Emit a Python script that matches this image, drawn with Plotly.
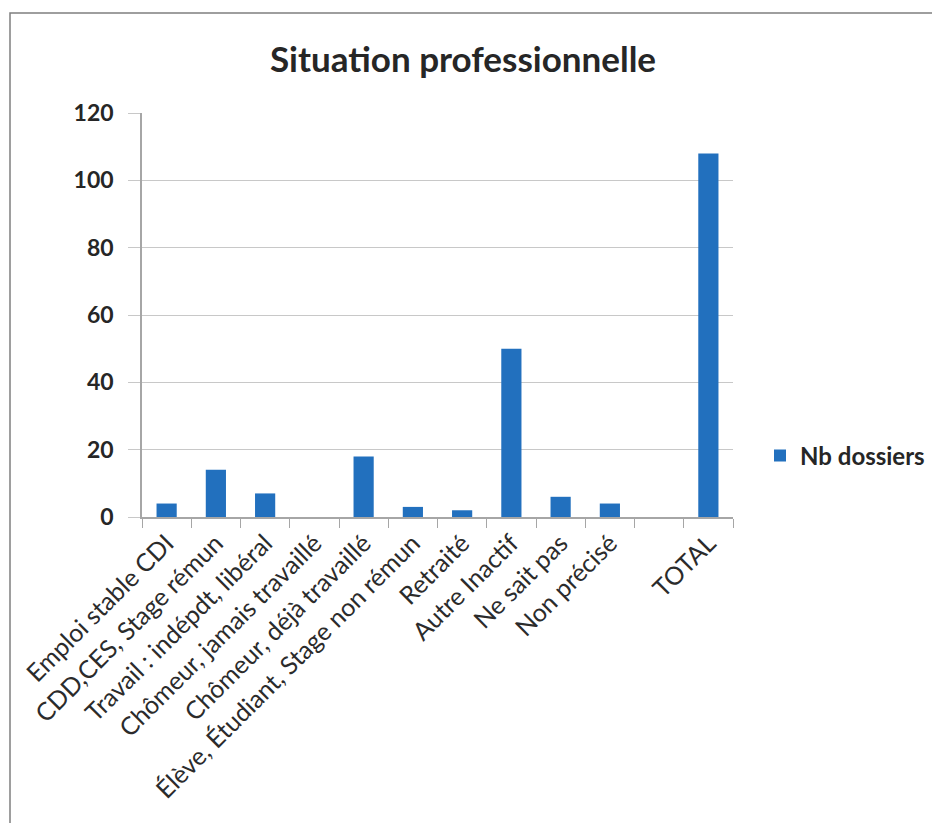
import plotly.graph_objects as go

categories = [
    "Emploi stable CDI",
    "CDD,CES, Stage rémun",
    "Travail : indépdt, libéral",
    "Chômeur, jamais travaillé",
    "Chômeur, déjà travaillé",
    "Élève, Étudiant, Stage non rémun",
    "Retraité",
    "Autre Inactif",
    "Ne sait pas",
    "Non précisé",
    " ",
    "TOTAL",
]
values = [4, 14, 7, 0, 18, 3, 2, 50, 6, 4, None, 108]
series_name = "Nb dossiers"
y_ticks = [0, 20, 40, 60, 80, 100, 120]

W, H = 940, 823
L, R, T, B = 134, 725, 105, 509

pw, ph = R - L, B - T


def px_to_paper_x(x):
    return (x - L) / pw


def px_to_paper_y(y):
    return (B - y) / ph


fig = go.Figure()
fig.add_trace(go.Bar(
    x=categories, y=values, name=series_name,
    marker=dict(color="#2270BE", line=dict(width=0)),
    showlegend=True,
))

fig.update_layout(
    width=W, height=H,
    margin=dict(l=L, r=W - R, t=T, b=H - B, autoexpand=False),
    paper_bgcolor="white", plot_bgcolor="white",
    bargap=0.59,
    title=dict(text="<b>Situation professionnelle</b>", x=455 / W, xanchor="center",
               y=1 - 52 / H, yanchor="middle",
               font=dict(family="Lato", size=35, color="#262626")),
    font=dict(family="Lato", color="#2B2B2B"),
    legend=dict(x=px_to_paper_x(752), y=px_to_paper_y(448), xanchor="left", yanchor="middle",
                font=dict(family="Lato", size=24, color="#262626", weight="bold"),
                itemwidth=30, bgcolor="rgba(0,0,0,0)"),
    showlegend=True,
)

fig.update_xaxes(
    type="category", tickangle=-45, showgrid=False,
    showline=True, linecolor="#A6A6A6", linewidth=1.5,
    ticks="outside", tickson="boundaries", ticklen=9, tickcolor="#A6A6A6",
    tickfont=dict(family="Lato", size=25, color="#2B2B2B"),
)
fig.update_yaxes(
    range=[0, 120], tickvals=y_ticks, showgrid=True, gridcolor="#C8C8C8", gridwidth=1.2,
    showline=True, linecolor="#A6A6A6", linewidth=1.5,
    ticks="outside", ticklen=12, tickcolor="#C8C8C8",
    zeroline=False, ticklabelstandoff=10,
    tickfont=dict(family="Lato", size=23, color="#262626", weight="bold"),
)

fig.add_shape(type="rect", xref="paper", yref="paper",
              x0=px_to_paper_x(2), x1=px_to_paper_x(930),
              y0=px_to_paper_y(840), y1=px_to_paper_y(5),
              line=dict(color="#7F7F7F", width=1.5), fillcolor="rgba(0,0,0,0)", layer="below")

fig.write_html("out.html")
